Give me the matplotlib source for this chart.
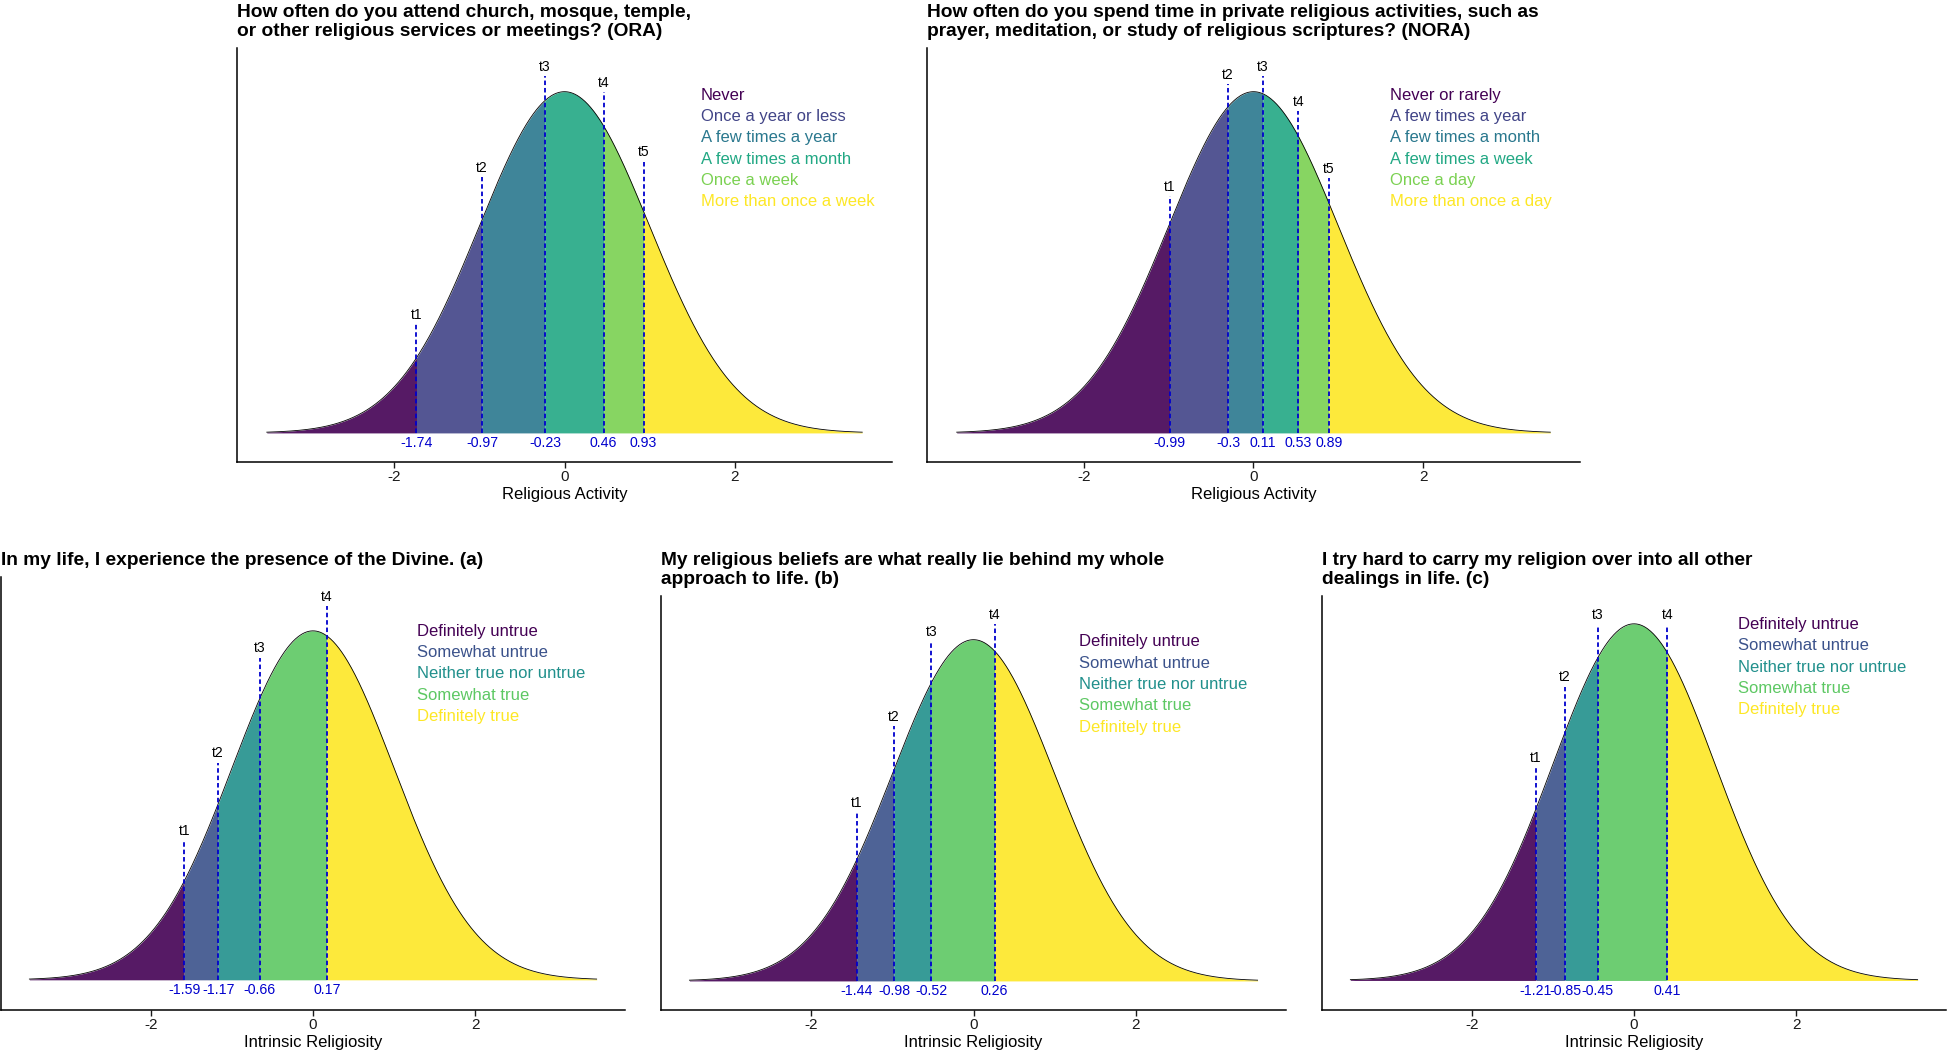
import numpy as np
import matplotlib.pyplot as plt

plt.rcParams['font.family'] = ['Liberation Sans', 'DejaVu Sans']
plt.rcParams['axes.unicode_minus'] = False

# ORA panel
ora_title = "How often do you attend church, mosque, temple,\nor other religious services or meetings? (ORA)"
ora_xlabel = "Religious Activity"
ora_cats = ["Never", "Once a year or less", "A few times a year",
            "A few times a month", "Once a week", "More than once a week"]
ora_thr = [-1.74, -0.97, -0.23, 0.46, 0.93]
ora_lab_y = [0.138, 0.310, 0.428, 0.409, 0.328]

# NORA panel
nora_title = "How often do you spend time in private religious activities, such as\nprayer, meditation, or study of religious scriptures? (NORA)"
nora_xlabel = "Religious Activity"
nora_cats = ["Never or rarely", "A few times a year", "A few times a month",
             "A few times a week", "Once a day", "More than once a day"]
nora_thr = [-0.99, -0.3, 0.11, 0.53, 0.89]
nora_lab_y = [0.288, 0.419, 0.428, 0.387, 0.309]

# Intrinsic religiosity panels
ir_xlabel = "Intrinsic Religiosity"
ir_cats = ["Definitely untrue", "Somewhat untrue", "Neither true nor untrue",
           "Somewhat true", "Definitely true"]

a_title = "In my life, I experience the presence of the Divine. (a)"
a_thr = [-1.59, -1.17, -0.66, 0.17]
a_lab_y = [0.170, 0.259, 0.379, 0.438]

b_title = "My religious beliefs are what really lie behind my whole\napproach to life. (b)"
b_thr = [-1.44, -0.98, -0.52, 0.26]
b_lab_y = [0.208, 0.309, 0.408, 0.428]

c_title = "I try hard to carry my religion over into all other\ndealings in life. (c)"
c_thr = [-1.21, -0.85, -0.45, 0.41]
c_lab_y = [0.249, 0.339, 0.409, 0.409]

viridis6 = ['#440154', '#414487', '#2A788E', '#22A884', '#7AD151', '#FDE725']
viridis5 = ['#440154', '#3B528B', '#21908C', '#5DC863', '#FDE725']

W, H = 1947, 1051
fig = plt.figure(figsize=(W / 100, H / 100), dpi=100)


def px_axes(l, t, r, b):
    return fig.add_axes([l / W, 1 - b / H, (r - l) / W, (b - t) / H])


def dnorm(x):
    return np.exp(-x ** 2 / 2) / np.sqrt(2 * np.pi)


def draw_panel(ax, title, xlabel, cats, thr, lab_y, colors, leg_x, leg_y):
    edges = [-3.5] + thr + [3.5]
    for i in range(len(cats)):
        xs = np.linspace(edges[i], edges[i + 1], 200)
        ax.fill_between(xs, 0, dnorm(xs), color=colors[i], alpha=0.9, lw=0)
    x = np.linspace(-3.5, 3.5, 600)
    ax.plot(x, dnorm(x), color='black', lw=0.6)

    for k, t in enumerate(thr):
        ax.vlines(t, 0, lab_y[k] - 0.011, colors='#0000CD',
                  linestyles=(0, (2.5, 1.6)), lw=1.3)
        ax.text(t, lab_y[k], f"t{k + 1}", ha='center', va='center',
                fontsize=10, color='black')
        ax.text(t, -0.012, f"{t:g}", ha='center', va='center',
                fontsize=10.2, color='#0000CD')

    lo, hi = -0.012, max(lab_y)
    rng = hi - lo
    ax.set_ylim(lo - 0.05 * rng, hi + 0.05 * rng)
    ax.set_xlim(-3.85, 3.85)
    ax.set_xticks([-2, 0, 2])
    ax.set_yticks([])
    ax.tick_params(axis='x', length=4, width=1, pad=2, labelsize=11,
                   colors='#1a1a1a')
    ax.spines[['top', 'right']].set_visible(False)
    for s in ['left', 'bottom']:
        ax.spines[s].set_linewidth(1.1)
    ax.set_xlabel(xlabel, fontsize=12, labelpad=2)
    ax.set_title(title, loc='left', fontsize=13.8, fontweight='bold',
                 family=['Liberation Sans Narrow', 'Liberation Sans'],
                 linespacing=1.2, pad=8.5)

    for i, c in enumerate(cats):
        ax.text(leg_x, leg_y - i * 21.3 / (ax.bbox.height), c,
                transform=ax.transAxes, ha='left', va='center',
                fontsize=12, color=colors[i])


ax1 = px_axes(237, 48, 892, 462)
draw_panel(ax1, ora_title, ora_xlabel, ora_cats, ora_thr, ora_lab_y,
           viridis6, 0.708, 0.886)
ax2 = px_axes(927, 48, 1580, 462)
draw_panel(ax2, nora_title, nora_xlabel, nora_cats, nora_thr, nora_lab_y,
           viridis6, 0.709, 0.886)
ax3 = px_axes(1, 577, 625, 1010)
draw_panel(ax3, a_title, ir_xlabel, ir_cats, a_thr, a_lab_y,
           viridis5, 0.667, 0.875)
ax4 = px_axes(661, 596, 1286, 1010)
draw_panel(ax4, b_title, ir_xlabel, ir_cats, b_thr, b_lab_y,
           viridis5, 0.669, 0.889)
ax5 = px_axes(1322, 596, 1946, 1010)
draw_panel(ax5, c_title, ir_xlabel, ir_cats, c_thr, c_lab_y,
           viridis5, 0.666, 0.931)

fig.savefig('out.png', dpi=100)
